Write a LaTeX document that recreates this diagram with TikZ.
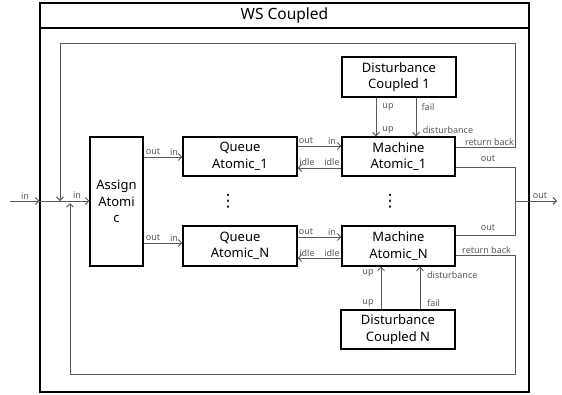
\documentclass[tikz,border=0pt]{standalone}
\usepackage{fontspec}
\setmainfont{Noto Sans}
\newfontfamily\symfont{DejaVu Sans}
\usetikzlibrary{arrows.meta}
\begin{document}
\begin{tikzpicture}[x=1pt,y=-1pt,
  box/.style={draw=black,line width=1.1pt,fill=white,align=center,font=\fontsize{13}{16.5}\selectfont,inner sep=0pt},
  wire/.style={draw=black!65,line width=0.9pt},
  arr/.style={wire,-{Straight Barb[length=3.5pt,width=7pt]}},
  lbl/.style={font=\fontsize{9}{10}\selectfont,text=black!65,inner sep=0pt},
  vdot/.style={inner sep=0pt,font=\symfont\fontsize{17}{17}\selectfont}]
\useasboundingbox (0,0) rectangle (562,394);
\fill[white] (0,0) rectangle (562,394);
% outer coupled box
\node[draw=black,line width=1.1pt,minimum width=489pt,minimum height=389pt,inner sep=0pt] (ws) at (284.5,197.5) {};
\draw[line width=1.1pt] (ws.west |- 0,28) -- (ws.east |- 0,28);
\node[font=\fontsize{15.5}{18}\selectfont,inner sep=0pt] (title) at (284.5,15.5) {WS Coupled};
% boxes
\node[box,minimum width=53pt,minimum height=129pt] (assign) at (116.5,201.5) {Assign\\Atomi\\c};
\node[box,minimum width=114pt,minimum height=39pt] (q1) at (240,156.5) {Queue\\Atomic\_1};
\node[box,minimum width=114pt,minimum height=40pt] (qN) at (240,246) {Queue\\Atomic\_N};
\node[box,minimum width=113pt,minimum height=39pt] (m1) at (398.5,156.5) {Machine\\Atomic\_1};
\node[box,minimum width=113pt,minimum height=40pt] (mN) at (398.5,246) {Machine\\Atomic\_N};
\node[box,minimum width=114pt,minimum height=40pt] (d1) at (399,77) {Disturbance\\Coupled 1};
\node[box,minimum width=114pt,minimum height=39pt] (dN) at (398,329.5) {Disturbance\\Coupled N};
\node[vdot] (dotq) at (228,201) {⋮};
\node[vdot] (dotm) at (390,201) {⋮};
% external in
\coordinate (extin) at (10,201);
\draw[arr] (extin) -- (ws.west |- extin);
\draw[arr] (ws.west |- extin) -- (assign.west |- extin);
\node[lbl] (lin1) at (25,196) {in};
\node[lbl] (lin2) at (77,195) {in};
% assign -> queues
\draw[arr] (assign.east |- 0,157) -- (q1.west |- 0,157);
\draw[arr] (assign.east |- 0,243) -- (qN.west |- 0,243);
\node[lbl] (la1) at (153,152) {out};
\node[lbl] (la2) at (174,152) {in};
\node[lbl] (la3) at (153,238) {out};
\node[lbl] (la4) at (174,238) {in};
% queue <-> machine
\draw[arr] (q1.east |- 0,146) -- (m1.west |- 0,146);
\draw[arr] (m1.west |- 0,168) -- (q1.east |- 0,168);
\draw[arr] (qN.east |- 0,237) -- (mN.west |- 0,237);
\draw[arr] (mN.west |- 0,258) -- (qN.east |- 0,258);
\node[lbl] (lq1) at (306,141) {out};
\node[lbl] (lq2) at (332,141) {in};
\node[lbl] (lq3) at (307,162) {idle};
\node[lbl] (lq4) at (332,162) {idle};
\node[lbl] (lq5) at (306,232) {out};
\node[lbl] (lq6) at (332,232) {in};
\node[lbl] (lq7) at (307,253) {idle};
\node[lbl] (lq8) at (332,253) {idle};
% disturbance 1 -> machine 1
\draw[arr] (d1.south -| 376,0) -- (m1.north -| 376,0);
\draw[arr] (d1.south -| 416,0) -- (m1.north -| 416,0);
\node[lbl] (ld1) at (388,107) {up};
\node[lbl] (ld2) at (428,107) {fail};
\node[lbl] (ld3) at (388,130) {up};
\node[lbl] (ld4) at (448,130) {disturbance};
% disturbance N -> machine N
\draw[arr] (dN.north -| 381,0) -- (mN.south -| 381,0);
\draw[arr] (dN.north -| 420,0) -- (mN.south -| 420,0);
\node[lbl] (ln1) at (368,273) {up};
\node[lbl,anchor=west] (ln2) at (427,275) {disturbance};
\node[lbl] (ln3) at (368,303) {up};
\node[lbl,anchor=west] (ln4) at (427,303) {fail};
% return back loops
\coordinate (rt1) at (515,147);
\coordinate (rt2) at (515,43);
\coordinate (rt3) at (60,43);
\draw[arr] (m1.east |- rt1) -- (rt1) -- (rt2) -- (rt3) -- (rt3 |- extin);
\coordinate (rb1) at (515,255);
\coordinate (rb2) at (515,374);
\coordinate (rb3) at (70,374);
\draw[arr] (mN.east |- rb1) -- (rb1) -- (rb2) -- (rb3) -- (70,203);
\node[lbl,anchor=east] (lr1) at (514,142) {return back};
\node[lbl,anchor=west] (lr2) at (462,250) {return back};
% outputs
\coordinate (o1) at (515,167);
\coordinate (o2) at (515,235);
\draw[wire] (m1.east |- o1) -- (o1) -- (o2) -- (mN.east |- o2);
\coordinate (extout) at (557,201);
\draw[arr] (515,201) -- (extout);
\node[lbl] (lo1) at (488,159) {out};
\node[lbl] (lo2) at (488,228) {out};
\node[lbl] (lo3) at (540,196) {out};
\end{tikzpicture}
\end{document}
